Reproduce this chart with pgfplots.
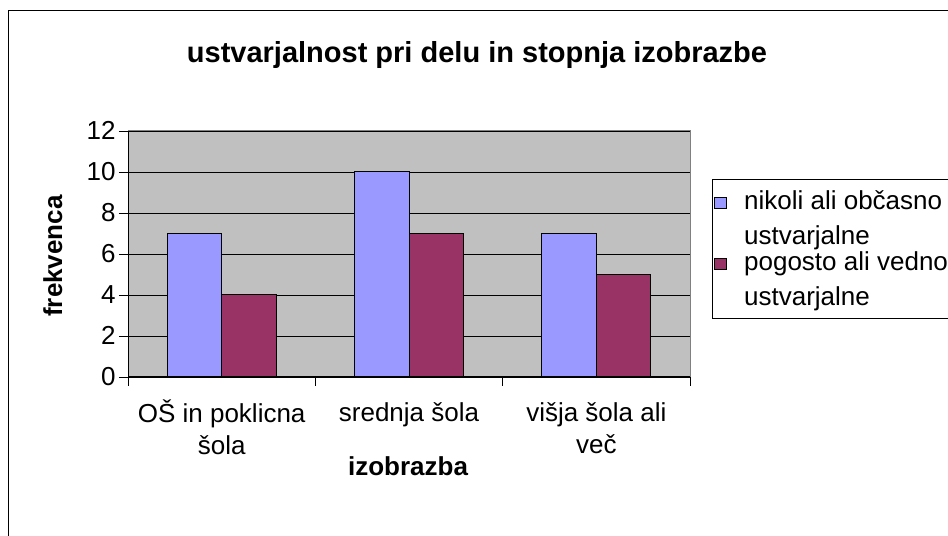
\documentclass[border=0pt]{standalone}
\usepackage{fontspec}
\setmainfont{Liberation Sans}
\usepackage{pgfplots}
\pgfplotsset{compat=1.18}
\definecolor{barblue}{HTML}{9999FF}
\definecolor{barred}{HTML}{993366}
\definecolor{plotgray}{HTML}{C0C0C0}
\definecolor{bordergray}{HTML}{808080}
\newcommand{\nf}{\fontsize{26bp}{32bp}\selectfont}
\newcommand{\lf}{\fontsize{26bp}{35bp}\selectfont}
\begin{document}
\begin{tikzpicture}
\begin{axis}[
  at={(128bp,159bp)}, anchor=south west,
  scale only axis, width=562bp, height=246bp,
  xmin=0, xmax=3, ymin=0, ymax=12,
  xtick={0,1,2,3},
  x tick label as interval,
  xticklabels={{OŠ in poklicna\\šola},{srednja šola},{višja šola ali\\več}},
  ytick={0,2,4,6,8,10,12},
  ytick pos=left, xtick pos=bottom,
  tick align=outside,
  major tick length=9bp,
  tick style={black, line width=0.8bp},
  ymajorgrids,
  major grid style={black, line width=0.8bp},
  axis background/.style={fill=plotgray},
  axis line style={bordergray, line width=1bp},
  /pgf/number format/assume math mode=true,
  typeset ticklabels with strut,
  ticklabel style={font=\nf},
  xticklabel style={align=center, yshift=-10bp},
  yticklabel style={yshift=-2bp},
  legend style={
    at={(1.0391,0.8049)}, anchor=north west,
    draw=black, line width=0.8bp, fill=white,
    font=\lf, cells={anchor=west, align=left},
    row sep=2bp, column sep=15bp, inner xsep=2bp, inner ysep=9bp,
  },
  legend image code/.code={
    \draw[#1, draw=black, line width=0.8bp] (0bp,10bp) rectangle (12bp,21bp);
  },
]
\addplot[ybar, bar width=0.291, bar shift=-0.1455, fill=barblue, draw=black, line width=1bp]
  coordinates {(0.5,7) (1.5,10) (2.5,7)};
\addlegendentry{nikoli ali občasno\hspace*{12bp}\\ustvarjalne}
\addplot[ybar, bar width=0.291, bar shift=0.1455, fill=barred, draw=black, line width=1bp]
  coordinates {(0.5,4) (1.5,7) (2.5,5)};
\addlegendentry{pogosto ali vedno\\ustvarjalne}
\draw[black, line width=1bp] (rel axis cs:0,1) -- (rel axis cs:0,0) -- (rel axis cs:1,0);
\end{axis}
\draw[black, line width=1bp] (8bp,-20bp) -- (8bp,525bp) -- (980bp,525bp);
\node[anchor=base, font=\bfseries\fontsize{29bp}{35bp}\selectfont] at (477bp,473bp) {ustvarjalnost pri delu in stopnja izobrazbe};
\node[anchor=base, font=\bfseries\nf] at (408bp,60bp) {izobrazba};
\node[anchor=base, rotate=90, font=\bfseries\nf] at (62bp,280bp) {frekvenca};
\pgfresetboundingbox
\path[use as bounding box] (0bp,0bp) rectangle (948bp,536bp);
\end{tikzpicture}
\end{document}
